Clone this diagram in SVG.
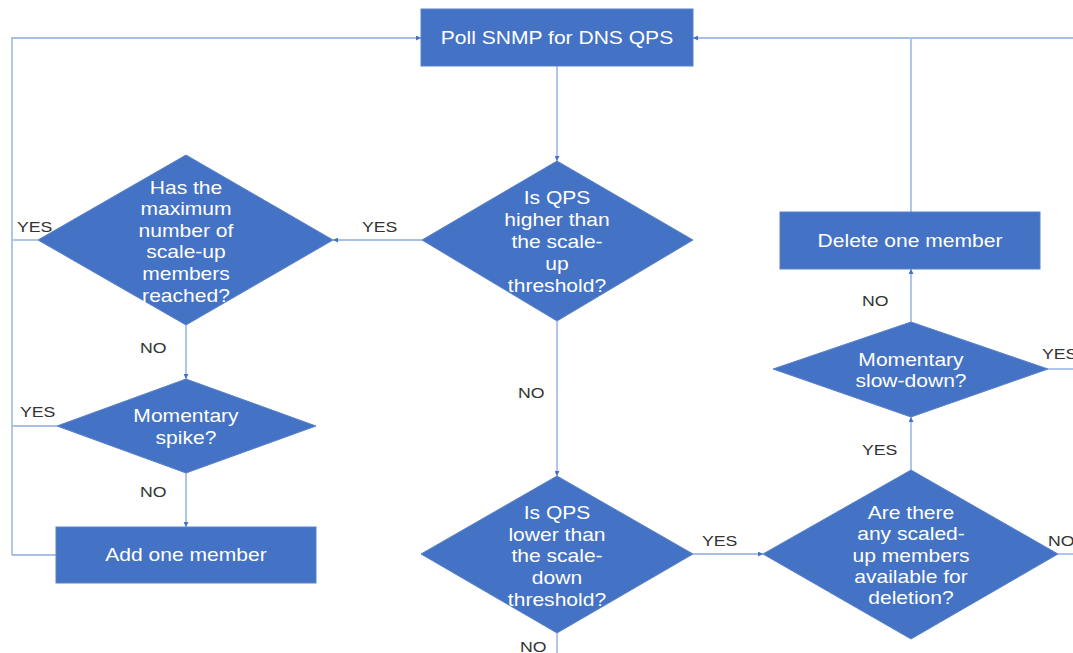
<svg xmlns="http://www.w3.org/2000/svg" width="1073" height="653" viewBox="0 0 1073 653">
<style>
.n{fill:#4472C4;stroke:#5b82c9;stroke-width:1}
.t{font-family:"Liberation Sans",Arial,sans-serif;font-size:18px;fill:#ffffff;text-anchor:middle}
.c{fill:none;stroke:#a8bfe8;stroke-width:1.8}
.l{font-family:"Liberation Sans",Arial,sans-serif;font-size:15px;fill:#333333}
</style>
<defs>
<marker id="a" viewBox="0 0 10 10" refX="10" refY="5" markerWidth="5" markerHeight="5" orient="auto" markerUnits="userSpaceOnUse">
<path d="M0,0 L10,5 L0,10 z" fill="#4472C4"/>
</marker>
</defs>
<rect width="1073" height="653" fill="#ffffff"/>
<g id="connectors">
<path class="c" d="M557,66 V161" marker-end="url(#a)"/>
<path class="c" d="M422,240 H333" marker-end="url(#a)"/>
<path class="c" d="M38,240 H12"/>
<path class="c" d="M12,555 V38 H421" marker-end="url(#a)"/>
<path class="c" d="M186,325 V379" marker-end="url(#a)"/>
<path class="c" d="M57,426 H12"/>
<path class="c" d="M186,473 V527" marker-end="url(#a)"/>
<path class="c" d="M56,555 H12"/>
<path class="c" d="M557,321 V476" marker-end="url(#a)"/>
<path class="c" d="M557,633 V653"/>
<path class="c" d="M693,554 H763" marker-end="url(#a)"/>
<path class="c" d="M1058,554 H1073"/>
<path class="c" d="M911,470 V417" marker-end="url(#a)"/>
<path class="c" d="M1048,369 H1073"/>
<path class="c" d="M911,322 V269" marker-end="url(#a)"/>
<path class="c" d="M911,212 V38"/>
<path class="c" d="M1073,38 H693" marker-end="url(#a)"/>
</g>
<g id="labels">
<text class="l" transform="translate(362,232) scale(1.18,1)">YES</text>
<text class="l" transform="translate(17,232) scale(1.18,1)">YES</text>
<text class="l" transform="translate(140,353) scale(1.18,1)">NO</text>
<text class="l" transform="translate(20,417) scale(1.18,1)">YES</text>
<text class="l" transform="translate(140,497) scale(1.18,1)">NO</text>
<text class="l" transform="translate(518,398) scale(1.18,1)">NO</text>
<text class="l" transform="translate(520,652) scale(1.18,1)">NO</text>
<text class="l" transform="translate(702,546) scale(1.18,1)">YES</text>
<text class="l" transform="translate(1048,546) scale(1.18,1)">NO</text>
<text class="l" transform="translate(862,455) scale(1.18,1)">YES</text>
<text class="l" transform="translate(1042,359) scale(1.18,1)">YES</text>
<text class="l" transform="translate(862,306) scale(1.18,1)">NO</text>
</g>
<g id="poll">
<rect class="n" x="421" y="9" width="272" height="57"/>
<text class="t" transform="translate(557,44) scale(1.17,1)">Poll SNMP for DNS QPS</text>
</g>
<g id="qps-higher">
<path class="n" d="M557,161 L693,240 L557,321 L422,240 Z"/>
<text class="t" transform="translate(557,204) scale(1.17,1)">Is QPS</text>
<text class="t" transform="translate(557,226) scale(1.17,1)">higher than</text>
<text class="t" transform="translate(557,248) scale(1.17,1)">the scale-</text>
<text class="t" transform="translate(557,270) scale(1.17,1)">up</text>
<text class="t" transform="translate(557,292) scale(1.17,1)">threshold?</text>
</g>
<g id="max-members">
<path class="n" d="M186,155 L333,240 L186,325 L38,240 Z"/>
<text class="t" transform="translate(186,194) scale(1.17,1)">Has the</text>
<text class="t" transform="translate(186,215) scale(1.17,1)">maximum</text>
<text class="t" transform="translate(186,237) scale(1.17,1)">number of</text>
<text class="t" transform="translate(186,258) scale(1.17,1)">scale-up</text>
<text class="t" transform="translate(186,280) scale(1.17,1)">members</text>
<text class="t" transform="translate(186,302) scale(1.17,1)">reached?</text>
</g>
<g id="spike">
<path class="n" d="M186,379 L316,426 L186,473 L57,426 Z"/>
<text class="t" transform="translate(186,422) scale(1.17,1)">Momentary</text>
<text class="t" transform="translate(186,444) scale(1.17,1)">spike?</text>
</g>
<g id="add">
<rect class="n" x="56" y="527" width="260" height="56"/>
<text class="t" transform="translate(186,561) scale(1.17,1)">Add one member</text>
</g>
<g id="qps-lower">
<path class="n" d="M557,476 L693,554 L557,633 L421,554 Z"/>
<text class="t" transform="translate(557,519) scale(1.17,1)">Is QPS</text>
<text class="t" transform="translate(557,541) scale(1.17,1)">lower than</text>
<text class="t" transform="translate(557,562) scale(1.17,1)">the scale-</text>
<text class="t" transform="translate(557,584) scale(1.17,1)">down</text>
<text class="t" transform="translate(557,606) scale(1.17,1)">threshold?</text>
</g>
<g id="available">
<path class="n" d="M911,470 L1058,554 L911,639 L763,554 Z"/>
<text class="t" transform="translate(911,519) scale(1.17,1)">Are there</text>
<text class="t" transform="translate(911,540) scale(1.17,1)">any scaled-</text>
<text class="t" transform="translate(911,562) scale(1.17,1)">up members</text>
<text class="t" transform="translate(911,583) scale(1.17,1)">available for</text>
<text class="t" transform="translate(911,604) scale(1.17,1)">deletion?</text>
</g>
<g id="slowdown">
<path class="n" d="M911,322 L1048,369 L911,417 L773,369 Z"/>
<text class="t" transform="translate(911,366) scale(1.17,1)">Momentary</text>
<text class="t" transform="translate(911,387) scale(1.17,1)">slow-down?</text>
</g>
<g id="delete">
<rect class="n" x="780" y="212" width="260" height="57"/>
<text class="t" transform="translate(910,247) scale(1.17,1)">Delete one member</text>
</g>
</svg>
